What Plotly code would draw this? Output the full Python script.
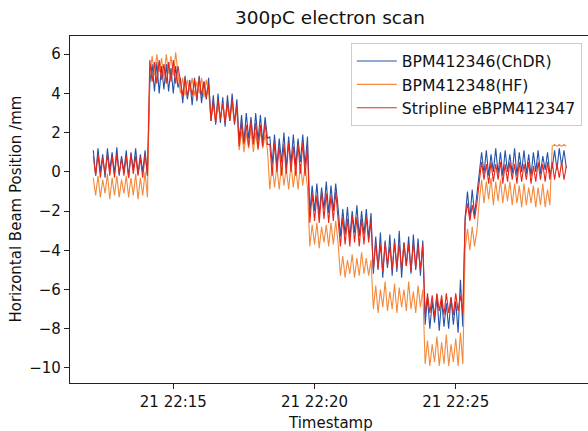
import pandas as pd
import plotly.graph_objects as go

# Logging clock of the scan
SAMPLE_START = "2023-07-21 22:12:10"
SAMPLE_PERIOD_S = 5

series_names = ["BPM412346(ChDR)", "BPM412348(HF)", "Stripline eBPM412347"]

bpm_chdr = [
    1.1, -0.2, 1.2, 0.0, 0.9, -0.3, 1.2, 0.1, 1.0, -0.1, 1.25, -0.2, 0.8, 0.0, 1.1, -0.3, 1.0, 0.1, 1.2, -0.1, 0.9, 0.0, 1.1, -0.2,
    4.5, 5.5, 4.1, 5.6, 4.0, 5.4, 4.2, 5.5, 4.1, 5.3, 4.0, 5.4, 4.3,
    4.8, 3.5, 4.9, 3.7, 4.7, 3.4, 4.8, 3.6, 4.9, 3.5, 4.6, 3.7, 4.8,
    2.6, 3.9, 2.4, 4.0, 2.5, 3.8, 2.3, 3.9, 2.6, 4.0, 2.4, 3.7,
    1.6, 2.9, 1.5, 3.0, 1.7, 2.8, 1.4, 3.0, 1.6, 2.9, 1.5, 2.8, 1.7,
    1.8, 0.4, 1.9, 0.3, 1.7, 0.5, 2.0, 0.2, 1.8, 0.4, 1.9, 0.3, 1.7, 0.5, 1.9, 0.3, 1.8,
    -2.1, -0.7, -2.0, -0.6, -2.2, -0.8, -1.9, -0.5, -2.1, -0.7, -2.0, -0.6, -1.8,
    -3.3, -1.9, -3.2, -1.8, -3.4, -2.0, -3.1, -1.7, -3.3, -2.0, -3.2, -1.9, -3.4, -2.1,
    -5.2, -3.3, -5.0, -3.1, -5.4, -3.5, -4.9, -3.2, -5.3, -3.4, -5.1, -3.0, -5.4, -3.6, -4.8, -3.3, -5.2, -3.2, -5.0, -3.4, -5.3, -3.5,
    -7.8, -6.4, -8.0, -6.6, -7.7, -6.3, -8.1, -6.5, -7.9, -6.7, -8.0, -6.4, -7.8, -6.6, -8.2, -5.5, -7.9,
    -2.3, -1.0, -2.4, -0.9, -2.2, -1.1,
    0.1, 1.0, -0.1, 1.1, -0.2, 0.9, 0.0, 1.2, -0.1, 1.0, -0.2, 1.1, 0.0, 0.9, -0.1, 1.2,
    -0.2, 1.0, 0.0, 1.1, -0.1, 0.9, -0.2, 1.0, 0.0, 1.1, -0.1, 0.8, 0.1, 1.0, -0.1,
    0.2, 1.1, 0.1, 1.2, 0.3, 1.1, 0.2,
]

bpm_hf = [
    -0.3, -1.2, -0.2, -1.3, -0.4, -1.1, -0.1, -1.4, -0.3, -1.2, -0.2, -1.3, -0.4, -1.1, -0.2, -1.3, -0.3, -1.2, -0.1, -1.4, -0.3, -1.2, 0.0, -1.3,
    5.0, 5.9, 4.9, 6.0, 5.1, 5.8, 4.8, 6.0, 5.0, 5.9, 4.9, 6.1, 5.0,
    4.0, 4.8, 3.9, 4.7, 4.1, 4.8, 3.9, 4.6, 4.0, 4.8, 3.8, 4.7, 4.1,
    2.7, 3.4, 2.6, 3.3, 2.8, 3.5, 2.6, 3.3, 2.7, 3.4, 2.5, 3.2,
    1.1, 2.1, 1.0, 2.0, 1.2, 2.2, 1.0, 2.0, 1.1, 2.1, 1.2, 1.9, 1.1,
    -0.9, 0.4, -0.8, 0.3, -0.9, 0.5, -0.7, 0.2, -0.9, 0.4, -0.8, 0.3, -0.9, 0.4, -0.7, 0.3, -0.8,
    -3.8, -2.7, -3.7, -2.6, -3.9, -2.8, -3.6, -2.7, -3.8, -2.6, -3.7, -2.5, -3.6,
    -5.3, -4.3, -5.4, -4.5, -5.2, -4.2, -5.4, -4.4, -5.3, -4.1, -5.2, -4.4, -5.3, -4.5,
    -7.0, -5.8, -7.2, -6.0, -6.9, -5.6, -7.1, -6.1, -7.0, -5.7, -7.2, -5.9, -6.9, -6.0, -7.1, -5.6, -7.0, -6.1, -7.2, -5.8, -6.9, -6.0,
    -9.8, -8.6, -9.9, -8.8, -9.7, -8.4, -9.9, -8.7, -9.8, -8.3, -9.9, -8.8, -9.7, -8.5, -9.9, -8.2, -9.8,
    -3.9, -2.9, -4.0, -2.8, -3.8, -3.0,
    -1.5, -0.4, -1.6, -0.5, -1.4, -0.3, -1.7, -0.5, -1.5, -0.4, -1.6, -0.6, -1.5, -0.5, -1.7, -0.6,
    -1.6, -0.7, -1.8, -0.6, -1.7, -0.8, -1.6, -0.7, -1.8, -0.8, -1.7, -0.6, -1.8, -0.9, -1.7,
    1.3, 1.4, 1.3, 1.4, 1.3, 1.4, 1.3,
]

stripline = [
    0.8, -0.2, 0.9, -0.3, 0.7, -0.1, 0.9, -0.2, 0.8, -0.3, 0.9, -0.1, 0.7, -0.2, 0.8, -0.3, 0.9, -0.1, 0.8, -0.2, 0.7, -0.3, 0.9, -0.2,
    5.7, 4.6, 5.6, 4.5, 5.7, 4.7, 5.5, 4.5, 5.6, 4.6, 5.7, 4.5, 5.4,
    4.7, 3.9, 4.8, 3.8, 4.6, 3.9, 4.7, 3.7, 4.8, 3.9, 4.6, 3.8, 4.5,
    2.6, 3.6, 2.5, 3.7, 2.7, 3.5, 2.5, 3.6, 2.6, 3.7, 2.5, 3.4,
    1.3, 2.5, 1.4, 2.4, 1.3, 2.6, 1.4, 2.5, 1.2, 2.4, 1.3, 2.5, 1.4,
    1.4, -0.2, 1.5, 0.0, 1.3, -0.2, 1.4, -0.1, 1.5, 0.0, 1.3, -0.2, 1.4, -0.1, 1.5, -0.2, 1.3,
    -2.6, -1.1, -2.5, -1.2, -2.6, -1.0, -2.4, -1.1, -2.6, -1.2, -2.5, -1.0, -2.4,
    -3.8, -2.3, -3.7, -2.4, -3.8, -2.2, -3.6, -2.3, -3.8, -2.4, -3.7, -2.3, -3.6, -2.5,
    -5.0, -3.6, -4.9, -3.7, -5.1, -3.6, -4.8, -3.8, -5.0, -3.6, -4.9, -3.7, -5.0, -3.6, -4.8, -3.7, -5.1, -3.6, -4.9, -3.8, -5.0, -3.7,
    -7.3, -6.2, -7.2, -6.3, -7.4, -6.2, -7.1, -6.3, -7.3, -6.2, -7.2, -6.4, -7.3, -6.2, -7.1, -6.3, -7.2,
    -2.4, -1.6, -2.5, -1.7, -2.4, -1.6,
    -0.5, 0.5, -0.4, 0.4, -0.6, 0.5, -0.5, 0.4, -0.4, 0.5, -0.6, 0.4, -0.5, 0.5, -0.4, 0.4,
    -0.6, 0.5, -0.5, 0.4, -0.4, 0.5, -0.6, 0.3, -0.5, 0.5, -0.4, 0.4, -0.5, 0.5, -0.4,
    0.5, -0.4, 0.4, -0.3, 0.5, -0.4, 0.3,
]

y_ticks = [-10, -8, -6, -4, -2, 0, 2, 4, 6]

colors = ["#2453a8", "#f5893c", "#e8261a"]
all_series = [bpm_chdr, bpm_hf, stripline]

FONT = "DejaVu Sans"

fig = go.Figure()
for name, vals, col in zip(series_names, all_series, colors):
    t = pd.date_range(SAMPLE_START, periods=len(vals), freq=f"{SAMPLE_PERIOD_S}s")
    fig.add_trace(go.Scatter(x=t, y=vals, mode="lines", name=name, legendgroup=name,
                             line=dict(color=col, width=1.1)))

fig.update_layout(
    width=588, height=431,
    margin=dict(l=70, r=0, t=36, b=48),
    paper_bgcolor="white", plot_bgcolor="white",
    font=dict(family=FONT, size=15, color="#111"),
    title=dict(text="300pC electron scan", font=dict(family=FONT, size=18.5, color="#111"),
               x=(330 - 70) / 518, xref="paper", xanchor="center",
               y=1 - 18 / 431, yref="container", yanchor="middle"),
    showlegend=True,
    legend=dict(x=0.988, y=0.979, xanchor="right", yanchor="top",
                bgcolor="rgba(255,255,255,0.85)", bordercolor="#cccccc", borderwidth=1,
                font=dict(family=FONT, size=15.7, color="#111"), tracegroupgap=0,
                itemwidth=40),
)

fig.update_xaxes(
    type="date",
    range=["2023-07-21 22:11:20.5", "2023-07-21 22:29:41"],
    tickformat="%d %H:%M", dtick=300000, tick0="2023-07-21 22:15:00",
    showgrid=False, zeroline=False,
    showline=True, linecolor="#222", linewidth=1.2, mirror=True,
    ticks="outside", ticklen=5, tickwidth=1, tickcolor="#222",
    tickfont=dict(family=FONT, size=15, color="#111"),
)
fig.update_yaxes(
    range=[-10.77, 6.93], tickvals=y_ticks,
    showgrid=False, zeroline=False,
    showline=True, linecolor="#222", linewidth=1.2, mirror=False,
    ticks="outside", ticklen=5, tickwidth=1, tickcolor="#222",
    tickfont=dict(family=FONT, size=15, color="#111"),
)

fig.add_annotation(text="Horizontal Beam Position /mm", textangle=-90,
                   xref="paper", yref="paper", x=(15 - 70) / 518, y=0.5,
                   xanchor="center", yanchor="middle", showarrow=False,
                   font=dict(family=FONT, size=15, color="#111"))
fig.add_annotation(text="Timestamp",
                   xref="paper", yref="paper", x=(330 - 70) / 518, y=(383 - 423) / 347,
                   xanchor="center", yanchor="middle", showarrow=False,
                   font=dict(family=FONT, size=15, color="#111"))

fig.write_html("out.html")
